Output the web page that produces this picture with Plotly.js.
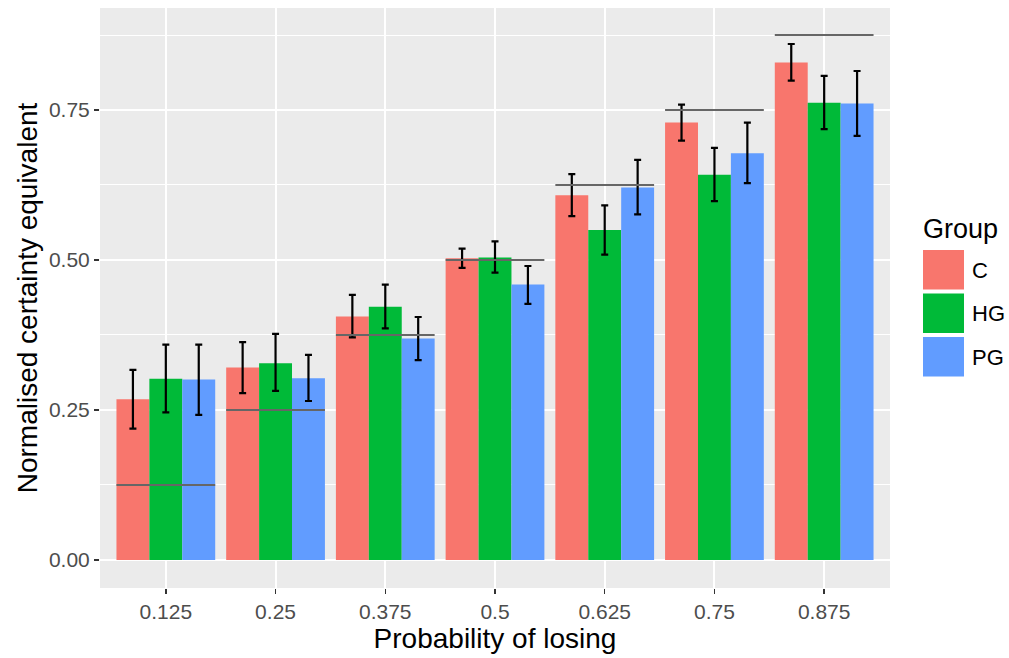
<!DOCTYPE html>
<html>
<head>
<meta charset="utf-8">
<script src="https://cdn.plot.ly/plotly-3.0.1.min.js"></script>
<style>html,body{margin:0;padding:0;background:#fff;}#chart{width:1009px;height:658px;}</style>
</head>
<body>
<div id="chart"></div>
<script>
// ---- data ----
const categories = ["0.125", "0.25", "0.375", "0.5", "0.625", "0.75", "0.875"];
const groups = ["C", "HG", "PG"];
const colors = ["#F8766D", "#00BA38", "#619CFF"];
const referenceValues = [0.125, 0.25, 0.375, 0.5, 0.625, 0.75, 0.875];

const meanC  = [0.268, 0.321, 0.406, 0.503, 0.608, 0.729, 0.829];
const meanHG = [0.302, 0.328, 0.422, 0.504, 0.550, 0.642, 0.762];
const meanPG = [0.301, 0.303, 0.369, 0.459, 0.621, 0.678, 0.761];

const upperC  = [0.317, 0.363, 0.442, 0.519, 0.643, 0.759, 0.860];
const lowerC  = [0.219, 0.278, 0.371, 0.487, 0.573, 0.699, 0.799];
const upperHG = [0.359, 0.377, 0.459, 0.531, 0.591, 0.687, 0.807];
const lowerHG = [0.246, 0.282, 0.386, 0.479, 0.509, 0.598, 0.718];
const upperPG = [0.359, 0.342, 0.405, 0.490, 0.667, 0.729, 0.815];
const lowerPG = [0.242, 0.265, 0.333, 0.427, 0.576, 0.628, 0.707];

const means = [meanC, meanHG, meanPG];
const uppers = [upperC, upperHG, upperPG];
const lowers = [lowerC, lowerHG, lowerPG];

// ---- build traces ----
const xpos = categories.map((c, i) => i + 1);
const traces = groups.map((g, k) => ({
  type: "bar",
  name: g,
  x: xpos,
  y: means[k],
  marker: { color: colors[k], line: { width: 0 } },
  error_y: {
    type: "data",
    symmetric: false,
    array: uppers[k].map((u, i) => u - means[k][i]),
    arrayminus: means[k].map((m, i) => m - lowers[k][i]),
    color: "#000000",
    thickness: 2.2,
    width: 3.5
  },
  showlegend: false,
  hoverinfo: "x+y"
}));

// reference segments spanning each group
const refX = [], refY = [];
xpos.forEach((x, i) => {
  refX.push(x - 0.45, x + 0.45, null);
  refY.push(referenceValues[i], referenceValues[i], null);
});
traces.push({
  type: "scatter",
  mode: "lines",
  x: refX,
  y: refY,
  line: { color: "#666666", width: 2.2 },
  showlegend: false,
  hoverinfo: "skip"
});

// ---- custom ggplot-style legend (big keys) ----
const L = 100, R = 890, T = 8, B = 588;
const px = v => (v - L) / (R - L);
const py = v => (B - v) / (B - T);
const shapes = [];
const annotations = [];
annotations.push({
  xref: "paper", yref: "paper", x: px(921), y: py(229), xanchor: "left", yanchor: "middle",
  text: "Group", showarrow: false, font: { size: 27, color: "#000000" }
});
groups.forEach((g, k) => {
  const top = 250 + k * 43.5;
  shapes.push({
    type: "rect", xref: "paper", yref: "paper",
    x0: px(923), x1: px(964), y0: py(top), y1: py(top + 39.5),
    fillcolor: colors[k], line: { width: 0 }
  });
  annotations.push({
    xref: "paper", yref: "paper", x: px(970), y: py(top + 20), xanchor: "left", yanchor: "middle",
    text: g, showarrow: false, font: { size: 22, color: "#000000" }
  });
});

const layout = {
  width: 1009,
  height: 658,
  margin: { l: 100, r: 119, t: 8, b: 70 },
  paper_bgcolor: "#FFFFFF",
  plot_bgcolor: "#EBEBEB",
  font: { family: "Liberation Sans, Arial, sans-serif", color: "#4D4D4D" },
  barmode: "group",
  bargap: 0.1,
  bargroupgap: 0,
  showlegend: false,
  xaxis: {
    range: [0.4, 7.6],
    tickmode: "array",
    tickvals: xpos,
    ticktext: categories,
    showgrid: true,
    gridcolor: "#FFFFFF",
    gridwidth: 2,
    zeroline: false,
    showline: false,
    ticks: "outside",
    ticklen: 5,
    tickwidth: 1.5,
    tickcolor: "#333333",
    tickfont: { size: 21, color: "#4D4D4D" },
    title: { text: "Probability of losing", font: { size: 28, color: "#000000" }, standoff: 2 }
  },
  yaxis: {
    range: [-0.0467, 0.92],
    tickmode: "array",
    tickvals: [0, 0.25, 0.5, 0.75],
    ticktext: ["0.00", "0.25", "0.50", "0.75"],
    showgrid: true,
    gridcolor: "#FFFFFF",
    gridwidth: 2,
    zeroline: false,
    showline: false,
    ticks: "outside",
    ticklen: 5,
    tickwidth: 1.5,
    tickcolor: "#333333",
    tickfont: { size: 21, color: "#4D4D4D" },
    minor: {
      tickvals: [0.125, 0.375, 0.625, 0.875],
      showgrid: true,
      gridcolor: "#FFFFFF",
      gridwidth: 1,
      ticks: ""
    },
    title: { text: "Normalised certainty equivalent", font: { size: 28, color: "#000000" }, standoff: 3 }
  },
  shapes: shapes,
  annotations: annotations
};

Plotly.newPlot("chart", traces, layout, { displayModeBar: false, staticPlot: true });
</script>
</body>
</html>
